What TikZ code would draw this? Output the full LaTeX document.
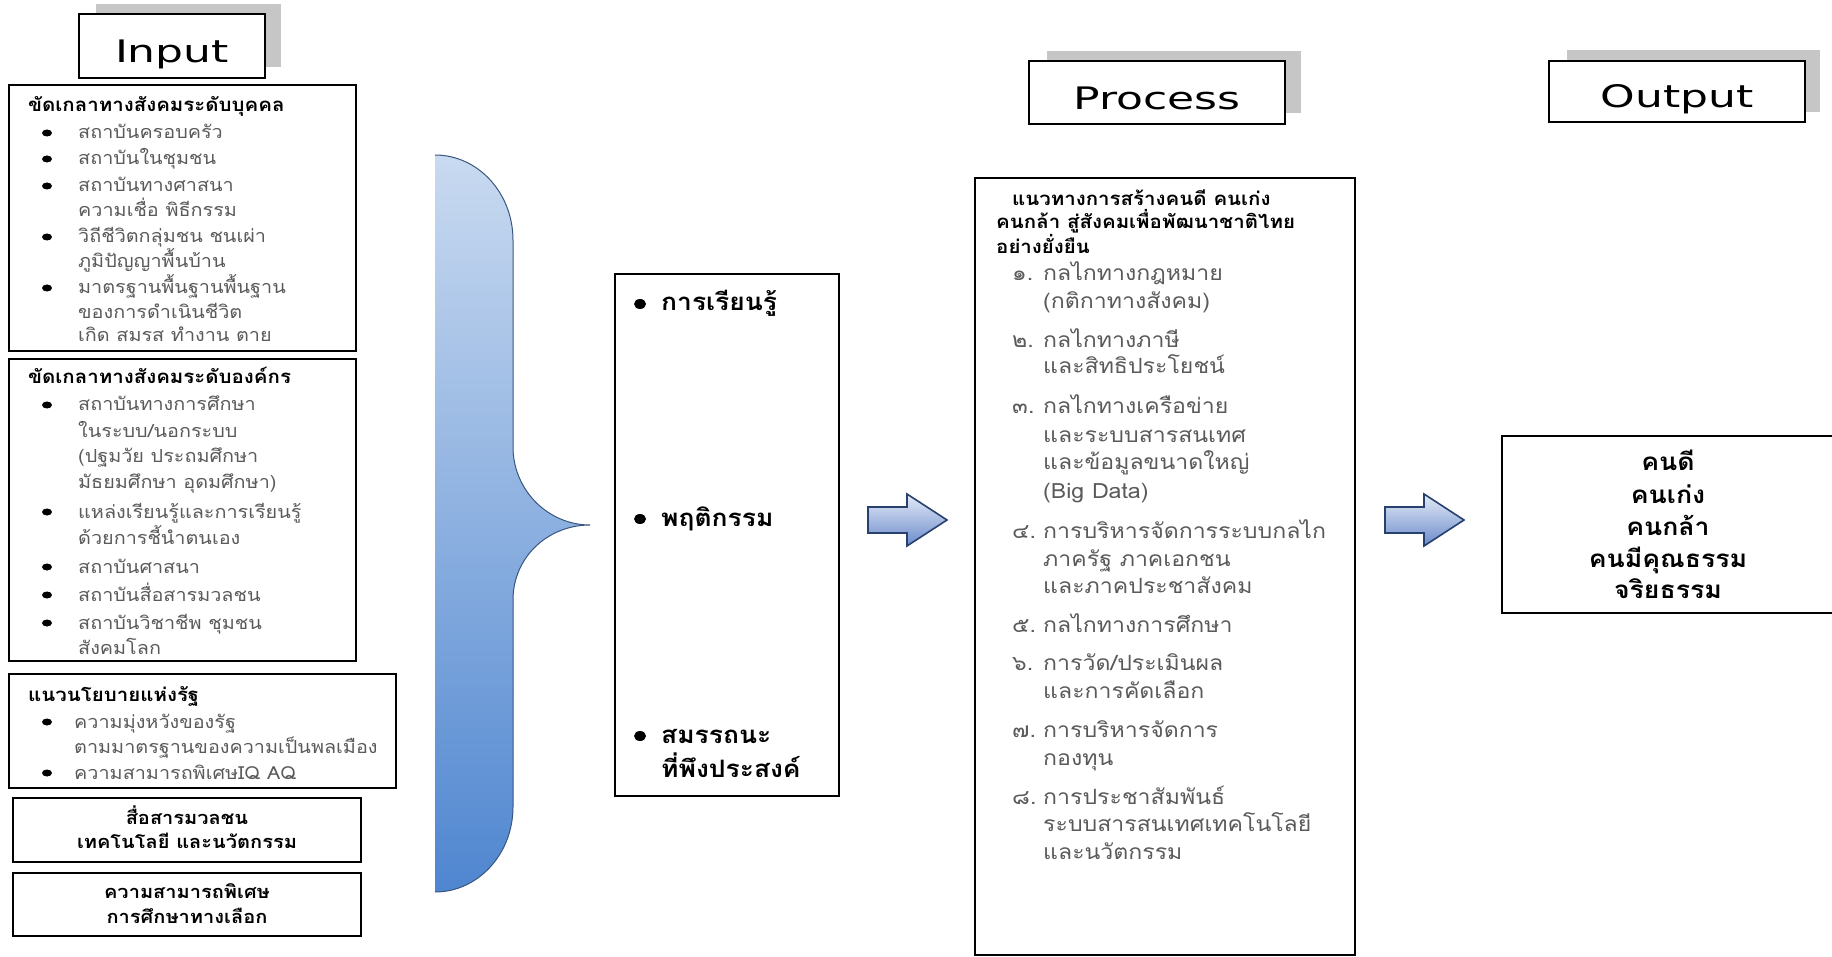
\documentclass[tikz,border=0pt]{standalone}
\usepackage{fontspec}
\newfontfamily\thaifont[Script=Thai, FakeStretch=1.1]{Loma}
\newfontfamily\headfont[FakeStretch=1.42]{DejaVu Sans}
\usetikzlibrary{positioning}
\definecolor{bracetop}{HTML}{C9DAF0}
\definecolor{bracebot}{HTML}{4F86D0}
\definecolor{braceline}{HTML}{3A5680}
\definecolor{arrowtop}{HTML}{E4EBF7}
\definecolor{arrowbot}{HTML}{6B8BCB}
\definecolor{arrowline}{HTML}{28406E}
\definecolor{shadowgray}{HTML}{C6C6C6}
\definecolor{txtgray}{HTML}{5A5A5A}

\begin{document}
\begin{tikzpicture}[x=1pt, y=-1pt,
  box/.style={draw, line width=2.4pt},
  headbox/.style={draw, line width=2.4pt, fill=white},
  headtxt/.style={anchor=base, inner sep=0, font=\headfont\fontsize{31}{31}\selectfont},
  ttl/.style={anchor=base west, inner sep=0, font=\thaifont\bfseries\fontsize{18.6}{18.6}\selectfont},
  itm/.style={anchor=base west, inner sep=0, text=txtgray, font=\thaifont\fontsize{18}{18}\selectfont},
  ctr/.style={anchor=base, inner sep=0, font=\thaifont\bfseries\fontsize{18.2}{18.2}\selectfont},
  mid/.style={anchor=base west, inner sep=0, font=\thaifont\bfseries\fontsize{24}{24}\selectfont},
  proc/.style={anchor=base west, inner sep=0, text=txtgray, font=\thaifont\fontsize{21}{21}\selectfont},
  outtxt/.style={anchor=base, inner sep=0, font=\thaifont\bfseries\fontsize{24.2}{24.2}\selectfont},
  blockarrow/.style={top color=arrowtop, bottom color=arrowbot, draw=arrowline, line width=1.6pt, line join=miter}
]
\useasboundingbox (0,0) rectangle (1832,957);

% Headers
\fill[shadowgray] (96,4) rectangle (281,67);
\draw[headbox] (79,14) rectangle (265,78);
\node[headtxt] (inhead) at (172,63) {Input};
\fill[shadowgray] (1047,51) rectangle (1301,113);
\draw[headbox] (1029,61) rectangle (1285,124);
\node[headtxt] (prochead) at (1157,110) {Process};
\fill[shadowgray] (1567,50) rectangle (1820,112);
\draw[headbox] (1549,61) rectangle (1805,122);
\node[headtxt] (outhead) at (1677,108) {Output};

% Input: individual level
\draw[box] (9,85) rectangle (356,351);
\node[ttl] (b1t) at (28,112) {ขัดเกลาทางสังคมระดับบุคคล};
\foreach \y in {133,159,186,237,288}
  \fill (47,\y) ellipse [x radius=5, y radius=3.5];
\node[itm] (b1a) at (78,139) {สถาบันครอบครัว};
\node[itm] (b1b) at (78,165) {สถาบันในชุมชน};
\node[itm] (b1c) at (78,192) {สถาบันทางศาสนา};
\node[itm] (b1d) at (78,217) {ความเชื่อ พิธีกรรม};
\node[itm] (b1e) at (78,243) {วิถีชีวิตกลุ่มชน ชนเผ่า};
\node[itm] (b1f) at (78,268) {ภูมิปัญญาพื้นบ้าน};
\node[itm] (b1g) at (78,294) {มาตรฐานพื้นฐานพื้นฐาน};
\node[itm] (b1h) at (78,319) {ของการดำเนินชีวิต};
\node[itm] (b1i) at (78,342) {เกิด สมรส ทำงาน ตาย};

% Input: organisation level
\draw[box] (9,359) rectangle (356,661);
\node[ttl] (b2t) at (28,384) {ขัดเกลาทางสังคมระดับองค์กร};
\foreach \y in {405,512,567,595,623}
  \fill (47,\y) ellipse [x radius=5, y radius=3.5];
\node[itm] (b2a) at (78,411) {สถาบันทางการศึกษา};
\node[itm] (b2b) at (78,438) {ในระบบ/นอกระบบ};
\node[itm] (b2c) at (78,463) {(ปฐมวัย ประถมศึกษา};
\node[itm] (b2d) at (78,489) {มัธยมศึกษา อุดมศึกษา)};
\node[itm] (b2e) at (78,518) {แหล่งเรียนรู้และการเรียนรู้};
\node[itm] (b2f) at (78,544) {ด้วยการชี้นำตนเอง};
\node[itm] (b2g) at (78,573) {สถาบันศาสนา};
\node[itm] (b2h) at (78,601) {สถาบันสื่อสารมวลชน};
\node[itm] (b2i) at (78,629) {สถาบันวิชาชีพ ชุมชน};
\node[itm] (b2j) at (78,654) {สังคมโลก};

% Input: state policy
\draw[box] (9,674) rectangle (396,788);
\node[ttl] (b3t) at (28,701) {แนวนโยบายแห่งรัฐ};
\foreach \y in {722,773}
  \fill (47,\y) ellipse [x radius=5, y radius=3.5];
\node[itm] (b3a) at (74,728) {ความมุ่งหวังของรัฐ};
\node[itm] (b3b) at (74,753) {ตามมาตรฐานของความเป็นพลเมือง};
\node[itm] (b3c) at (74,779) {ความสามารถพิเศษIQ AQ};

% Input: small boxes
\draw[box] (13,798) rectangle (361,862);
\node[ctr] (b4a) at (187,824) {สื่อสารมวลชน};
\node[ctr] (b4b) at (187,848) {เทคโนโลยี และนวัตกรรม};
\draw[box] (13,873) rectangle (361,936);
\node[ctr] (b5a) at (187,898) {ความสามารถพิเศษ};
\node[ctr] (b5b) at (187,923) {การศึกษาทางเลือก};

% Brace
\shade[top color=bracetop, bottom color=bracebot]
  (435,155) .. controls (478,155) and (513,193) .. (513,240)
  -- (513,447) .. controls (513,490) and (548,525) .. (590,525)
  .. controls (548,525) and (513,557) .. (513,600)
  -- (513,807) .. controls (513,854) and (478,892) .. (435,892) -- cycle;
\draw[braceline, line width=1pt]
  (435,155) .. controls (478,155) and (513,193) .. (513,240)
  -- (513,447) .. controls (513,490) and (548,525) .. (590,525)
  .. controls (548,525) and (513,557) .. (513,600)
  -- (513,807) .. controls (513,854) and (478,892) .. (435,892);

% Middle box
\draw[box] (615,274) rectangle (839,796);
\foreach \y in {304,519,736}
  \fill (640,\y) ellipse [x radius=6, y radius=5];
\node[mid] (m1) at (661,311) {การเรียนรู้};
\node[mid] (m2) at (661,526) {พฤติกรรม};
\node[mid] (m3) at (661,743) {สมรรถนะ};
\node[mid] (m4) at (661,777) {ที่พึงประสงค์};

% Block arrows
\foreach \ax in {868,1385}
  \shade[blockarrow] (\ax,507) -- ({\ax+39},507) -- ({\ax+39},494) -- ({\ax+79},520)
    -- ({\ax+39},546) -- ({\ax+39},533) -- (\ax,533) -- cycle;

% Process box
\draw[box] (975,178) rectangle (1355,955);
\node[ttl] (pt1) at (1012,206) {แนวทางการสร้างคนดี คนเก่ง};
\node[ttl] (pt2) at (996,229) {คนกล้า สู่สังคมเพื่อพัฒนาชาติไทย};
\node[ttl] (pt3) at (996,254) {อย่างยั่งยืน};
\node[proc] (pn1) at (1012,281) {๑.};
\node[proc] (p1a) at (1043,281) {กลไกทางกฎหมาย};
\node[proc] (p1b) at (1043,309) {(กติกาทางสังคม)};
\node[proc] (pn2) at (1012,348) {๒.};
\node[proc] (p2a) at (1043,348) {กลไกทางภาษี};
\node[proc] (p2b) at (1043,374) {และสิทธิประโยชน์};
\node[proc] (pn3) at (1012,414) {๓.};
\node[proc] (p3a) at (1043,414) {กลไกทางเครือข่าย};
\node[proc] (p3b) at (1043,443) {และระบบสารสนเทศ};
\node[proc] (p3c) at (1043,470) {และข้อมูลขนาดใหญ่};
\node[proc] (p3d) at (1043,498) {(Big Data)};
\node[proc] (pn4) at (1012,538) {๔.};
\node[proc] (p4a) at (1043,538) {การบริหารจัดการระบบกลไก};
\node[proc] (p4b) at (1043,566) {ภาครัฐ ภาคเอกชน};
\node[proc] (p4c) at (1043,593) {และภาคประชาสังคม};
\node[proc] (pn5) at (1012,632) {๕.};
\node[proc] (p5a) at (1043,632) {กลไกทางการศึกษา};
\node[proc] (pn6) at (1012,670) {๖.};
\node[proc] (p6a) at (1043,670) {การวัด/ประเมินผล};
\node[proc] (p6b) at (1043,698) {และการคัดเลือก};
\node[proc] (pn7) at (1012,737) {๗.};
\node[proc] (p7a) at (1043,737) {การบริหารจัดการ};
\node[proc] (p7b) at (1043,765) {กองทุน};
\node[proc] (pn8) at (1012,804) {๘.};
\node[proc] (p8a) at (1043,804) {การประชาสัมพันธ์};
\node[proc] (p8b) at (1043,831) {ระบบสารสนเทศเทคโนโลยี};
\node[proc] (p8c) at (1043,859) {และนวัตกรรม};

% Output box
\draw[box] (1832,436) -- (1502,436) -- (1502,613) -- (1832,613);
\node[outtxt] (o1) at (1668,471) {คนดี};
\node[outtxt] (o2) at (1668,503) {คนเก่ง};
\node[outtxt] (o3) at (1668,535) {คนกล้า};
\node[outtxt] (o4) at (1668,567) {คนมีคุณธรรม};
\node[outtxt] (o5) at (1668,598) {จริยธรรม};
\end{tikzpicture}
\end{document}
